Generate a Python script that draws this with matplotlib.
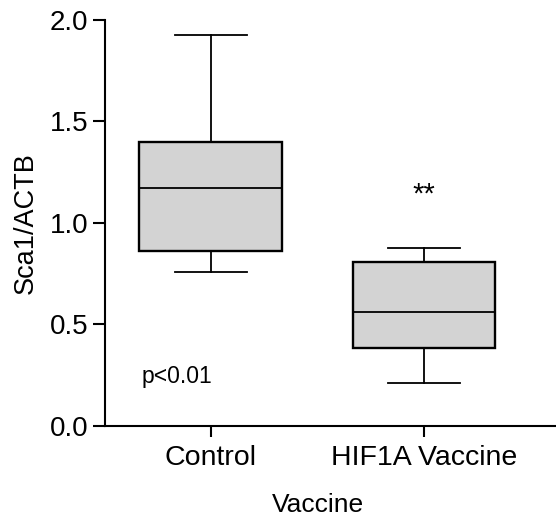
import matplotlib
matplotlib.use("Agg")
import matplotlib.pyplot as plt

plt.rcParams['font.family'] = ['Liberation Sans', 'DejaVu Sans']

# data
groups = ["Control", "HIF1A Vaccine"]
whisker_low = [0.756, 0.212]
q1 = [0.861, 0.382]
medians = [1.171, 0.561]
q3 = [1.399, 0.806]
whisker_high = [1.928, 0.876]

stats = []
for g, lo, a, m, b, hi in zip(groups, whisker_low, q1, medians, q3, whisker_high):
    stats.append(dict(label=g, whislo=lo, q1=a, med=m, q3=b, whishi=hi, fliers=[]))

fig = plt.figure(figsize=(5.56, 5.23), dpi=100)
ax = fig.add_axes([0.1888, 0.186, 0.8112, 0.7758])

ax.bxp(stats, positions=[0, 1], widths=0.67, patch_artist=True, showfliers=False,
       boxprops=dict(facecolor='#d3d3d3', edgecolor='black', linewidth=1.7),
       medianprops=dict(color='black', linewidth=1.3),
       whiskerprops=dict(color='black', linewidth=1.3),
       capprops=dict(color='black', linewidth=1.3),
       capwidths=0.335)

ax.set_xlim(-0.497, 1.62)
ax.set_ylim(0, 2.0)
ax.set_yticks([0.0, 0.5, 1.0, 1.5, 2.0])
ax.set_yticklabels(["0.0", "0.5", "1.0", "1.5", "2.0"])

for s in ["top", "right"]:
    ax.spines[s].set_visible(False)
for s in ["left", "bottom"]:
    ax.spines[s].set_linewidth(1.5)

ax.tick_params(axis='y', length=8.4, width=1.5, labelsize=20, pad=3.5)
ax.tick_params(axis='x', length=8, width=1.5, labelsize=20.5, pad=6)

ax.set_ylabel("Sca1/ACTB", fontsize=19.5, labelpad=8)
ax.set_xlabel("Vaccine", fontsize=19, labelpad=20)
ax.xaxis.set_label_coords(0.472, -0.165)

ax.text(1, 1.137, "**", ha='center', va='center', fontsize=21)
ax.text(-0.324, 0.21, "p<0.01", ha='left', va='baseline', fontsize=16.5)

fig.savefig("out.png", dpi=100)
